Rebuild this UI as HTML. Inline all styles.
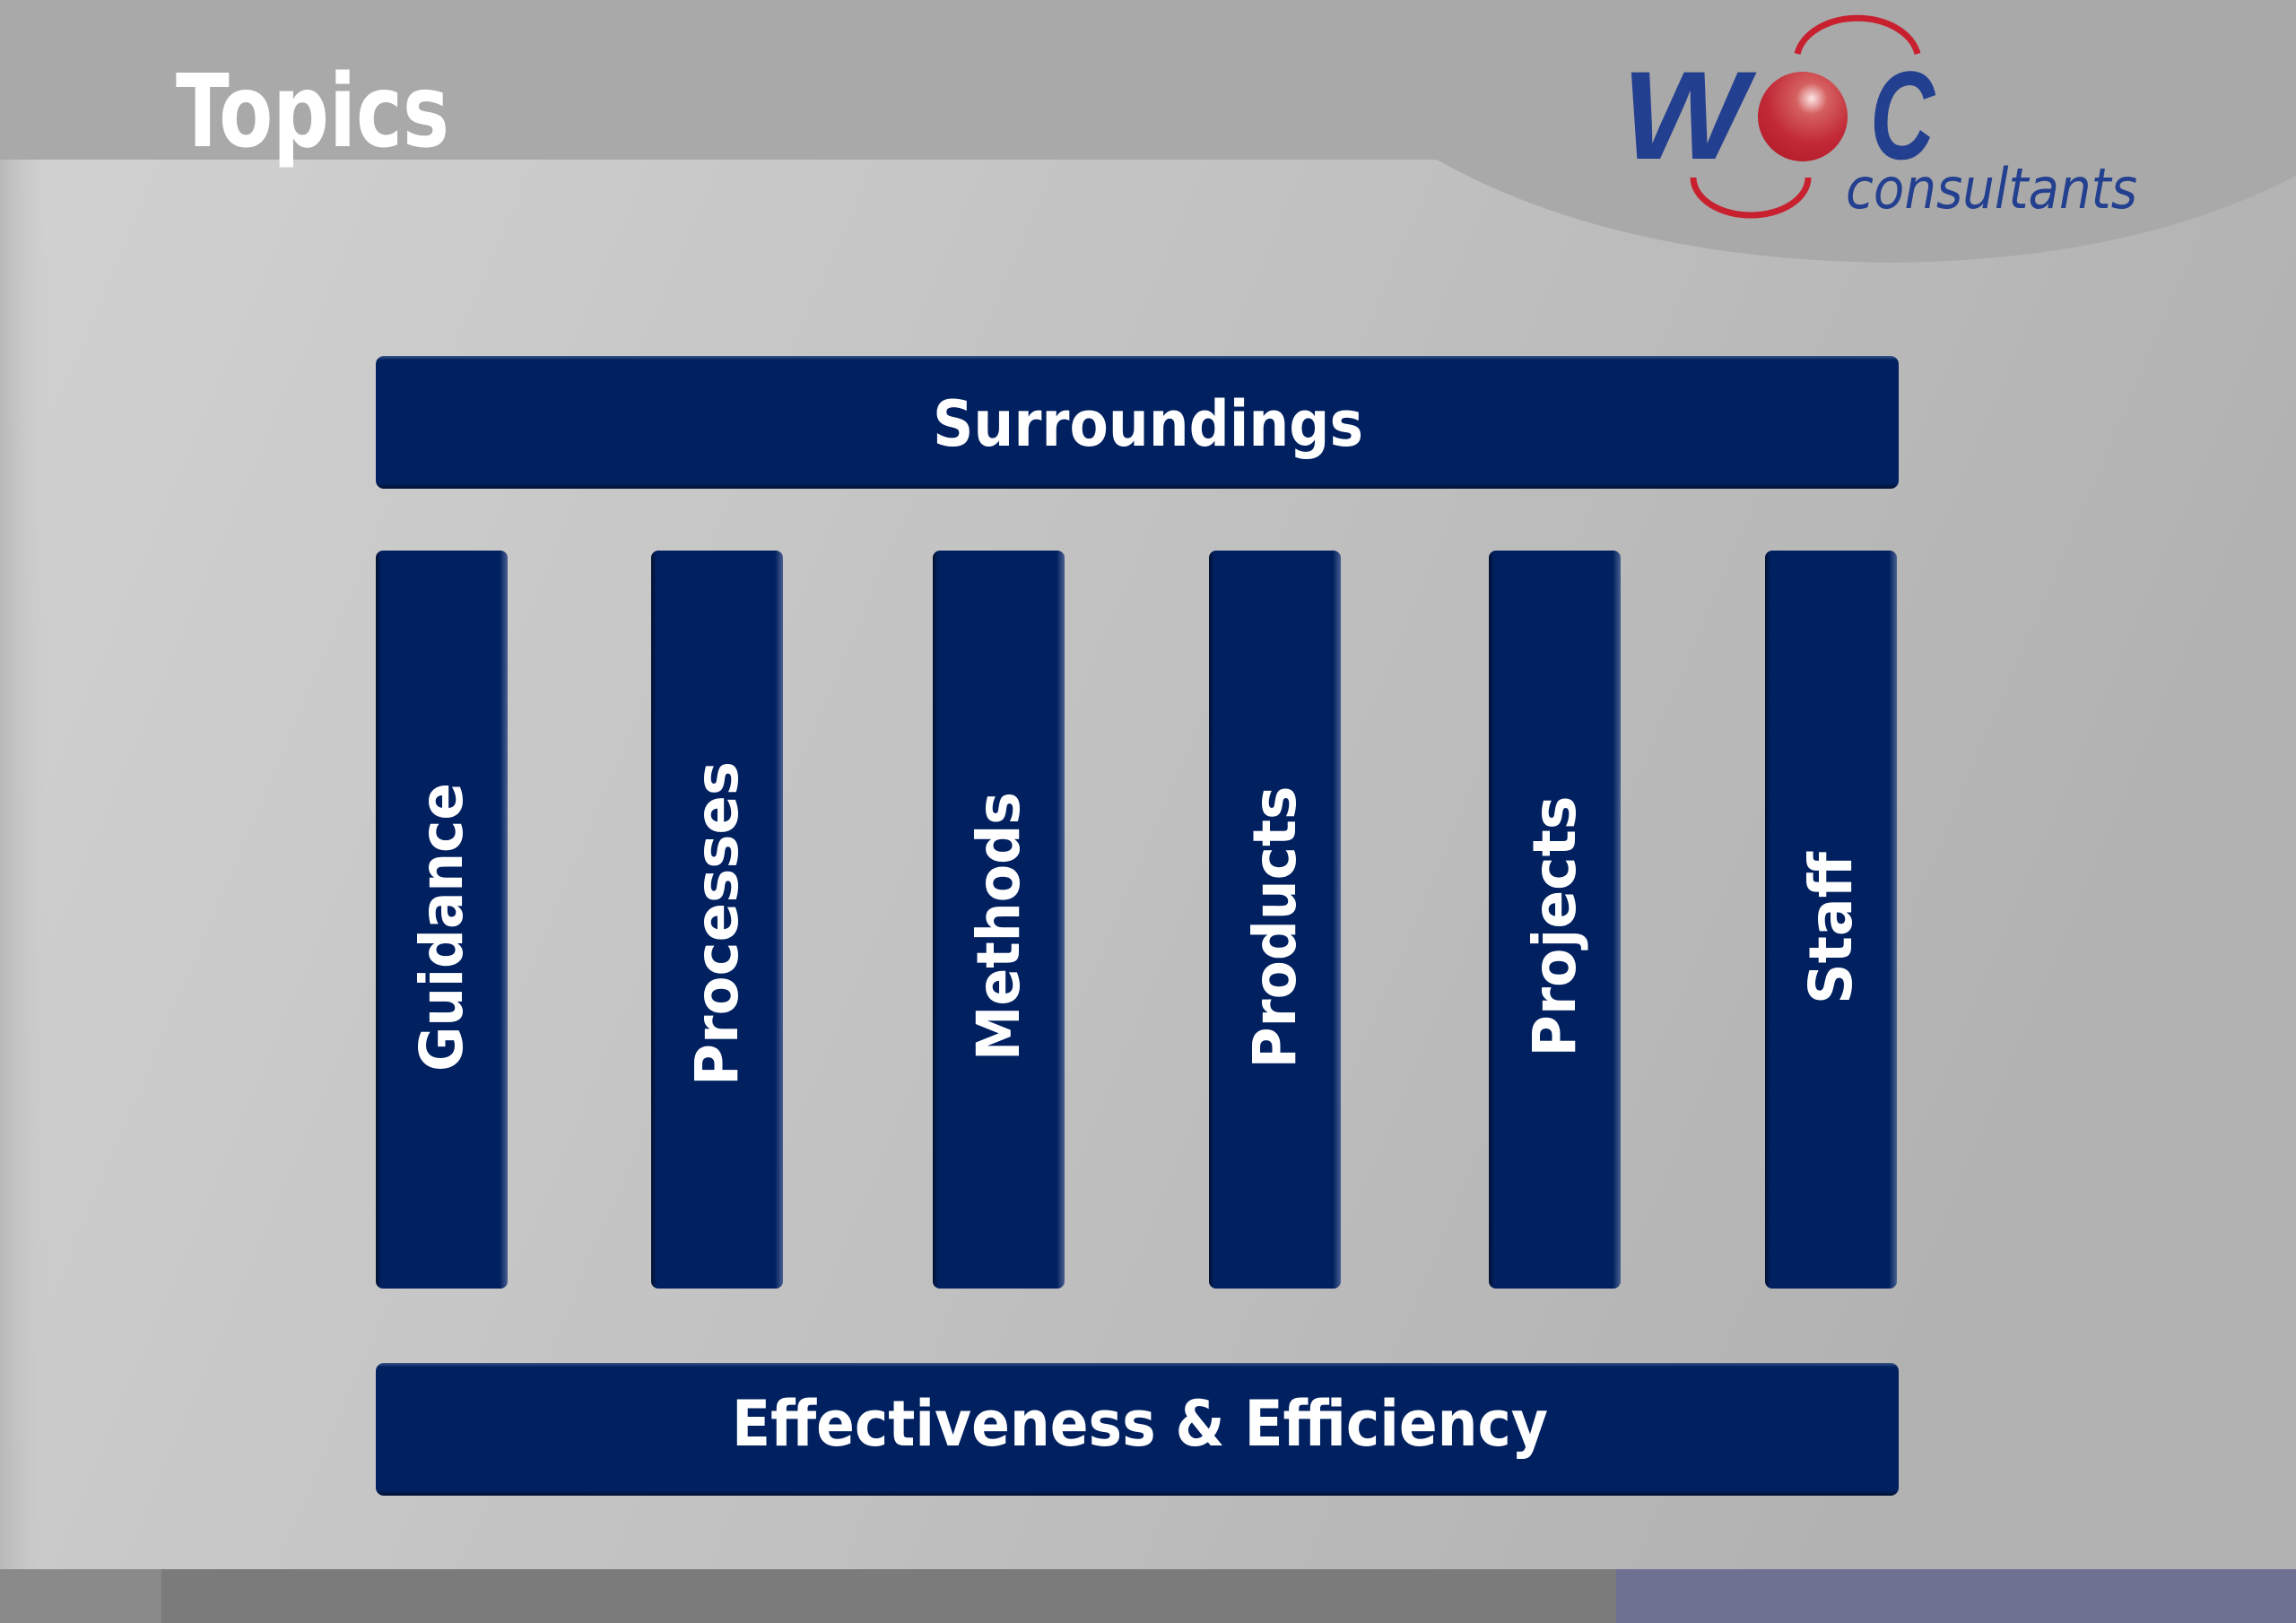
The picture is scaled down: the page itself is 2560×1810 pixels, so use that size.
<!DOCTYPE html>
<html><head><meta charset="utf-8"><style>
html,body{margin:0;padding:0;width:2560px;height:1810px;overflow:hidden;background:#bdbdbd}
svg{display:block}
text{font-family:"DejaVu Sans","Liberation Sans",sans-serif;font-weight:bold;fill:#fff}
</style></head><body>
<svg width="2560" height="1810" viewBox="0 0 2560 1810" xmlns="http://www.w3.org/2000/svg">
<defs>
<linearGradient id="bg" x1="0" y1="0" x2="1" y2="0.3">
<stop offset="0" stop-color="#d2d2d2"/><stop offset="0.5" stop-color="#c3c3c3"/><stop offset="1" stop-color="#b2b2b2"/>
</linearGradient>
<linearGradient id="lstrip" x1="0" y1="0" x2="1" y2="0">
<stop offset="0" stop-color="#b8b8b8"/><stop offset="1" stop-color="#cfcfcf" stop-opacity="0"/>
</linearGradient>
<radialGradient id="ball" cx="0.6" cy="0.3" r="0.7">
<stop offset="0" stop-color="#fbe6e6"/><stop offset="0.25" stop-color="#d56060"/><stop offset="0.7" stop-color="#c22a38"/><stop offset="1" stop-color="#b8202e"/>
</radialGradient>
<linearGradient id="bar" x1="0" y1="0" x2="0" y2="1">
<stop offset="0" stop-color="#3a5488"/><stop offset="0.03" stop-color="#002060"/><stop offset="0.96" stop-color="#002060"/><stop offset="1" stop-color="#001030"/>
</linearGradient>
<linearGradient id="col" x1="0" y1="0" x2="1" y2="0">
<stop offset="0" stop-color="#001030"/><stop offset="0.04" stop-color="#002060"/><stop offset="0.94" stop-color="#002060"/><stop offset="1" stop-color="#4a6090"/>
</linearGradient>
</defs>
<rect width="2560" height="1810" fill="url(#bg)"/>
<rect x="0" y="176" width="60" height="1580" fill="url(#lstrip)"/>
<!-- header band -->
<rect x="0" y="0" width="2560" height="178" fill="#a9a9a9"/>
<path d="M1600 177 Q1800 290 2110 293 Q2380 290 2560 196 L2560 0 L1600 0 Z" fill="#a9a9a9"/>
<text x="196" y="163" font-size="112" textLength="305" lengthAdjust="spacingAndGlyphs">Topics</text>
<!-- logo -->
<path d="M2004 60 A68 48 0 0 1 2138 60" fill="none" stroke="#c8202e" stroke-width="7"/>
<path d="M1888 198 A64 42 0 0 0 2016 198" fill="none" stroke="#c8202e" stroke-width="7"/>
<text x="1808" y="177" font-size="140" font-style="italic" style="font-family:'Liberation Sans',sans-serif;font-weight:bold;fill:#233f8f" textLength="140" lengthAdjust="spacingAndGlyphs">W</text>
<ellipse cx="2010" cy="130" rx="50" ry="50" fill="url(#ball)"/>
<text x="2085" y="177" font-size="140" font-style="italic" style="font-family:'Liberation Sans',sans-serif;font-weight:bold;fill:#233f8f" textLength="72" lengthAdjust="spacingAndGlyphs">C</text>
<text x="2058" y="232" font-size="62" font-style="italic" style="font-family:'DejaVu Sans',sans-serif;font-weight:normal;fill:#233f8f" textLength="325" lengthAdjust="spacingAndGlyphs">consultants</text>
<!-- top bar -->
<rect x="419" y="397" width="1698" height="148" rx="9" fill="url(#bar)"/>
<text x="1040" y="497" font-size="70" textLength="480" lengthAdjust="spacingAndGlyphs">Surroundings</text>
<!-- columns -->
<g>
<rect x="419" y="614" width="147" height="823" rx="8" fill="url(#col)"/>
<rect x="726" y="614" width="147" height="823" rx="8" fill="url(#col)"/>
<rect x="1040" y="614" width="147" height="823" rx="8" fill="url(#col)"/>
<rect x="1348" y="614" width="147" height="823" rx="8" fill="url(#col)"/>
<rect x="1660" y="614" width="147" height="823" rx="8" fill="url(#col)"/>
<rect x="1968" y="614" width="147" height="823" rx="8" fill="url(#col)"/>
</g>
<g font-size="66" text-anchor="middle">
<text transform="translate(515,1034) rotate(-90)" textLength="322" lengthAdjust="spacingAndGlyphs">Guidance</text>
<text transform="translate(822,1030) rotate(-90)" textLength="362" lengthAdjust="spacingAndGlyphs">Processes</text>
<text transform="translate(1136,1033) rotate(-90)" textLength="300" lengthAdjust="spacingAndGlyphs">Methods</text>
<text transform="translate(1444,1034) rotate(-90)" textLength="315" lengthAdjust="spacingAndGlyphs">Products</text>
<text transform="translate(1756,1033) rotate(-90)" textLength="291" lengthAdjust="spacingAndGlyphs">Projects</text>
<text transform="translate(2064,1035) rotate(-90)" textLength="170" lengthAdjust="spacingAndGlyphs">Staff</text>
</g>
<!-- bottom bar -->
<rect x="419" y="1520" width="1698" height="148" rx="9" fill="url(#bar)"/>
<text x="816" y="1612" font-size="70" textLength="910" lengthAdjust="spacingAndGlyphs">Effectiveness &amp; Efficiency</text>
<!-- footer -->
<rect x="0" y="1750" width="1802" height="60" fill="#7b7b7b"/>
<rect x="0" y="1750" width="180" height="60" fill="#8a8a8a"/>
<rect x="1802" y="1750" width="758" height="60" fill="#6f7192"/>
</svg>
</body></html>
